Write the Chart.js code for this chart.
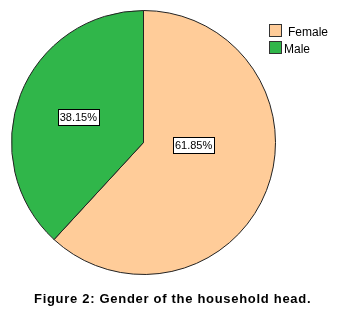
<!DOCTYPE html>
<html>
<head>
<meta charset="utf-8">
<script src="https://cdn.jsdelivr.net/npm/chart.js@4.4.1/dist/chart.umd.min.js"></script>
<style>
  html, body { margin: 0; padding: 0; background: #fff; }
  #wrap { position: relative; width: 343px; height: 312px; }
</style>
</head>
<body>
<div id="wrap"><canvas id="myChart" width="343" height="312"></canvas></div>
<script>
const categorias = ['Female', 'Male'];
const porcentajes = [61.85, 38.15];
const colores = ['#ffcc99', '#30b64a'];
const titulo = 'Figure 2: Gender of the household head.';

// labels in white boxes, legend and caption drawn on the canvas
const extras = {
    id: 'extras',
    afterDatasetsDraw(chart, args, opts) {
        const ctx = chart.ctx;
        const meta = chart.getDatasetMeta(0);
        ctx.save();
        ctx.font = '11px "Liberation Sans", Arial, sans-serif';
        ctx.textAlign = 'center';
        ctx.textBaseline = 'middle';
        meta.data.forEach((arc, i) => {
            const p = arc.getProps(['x', 'y', 'startAngle', 'endAngle', 'outerRadius']);
            const ang = (p.startAngle + p.endAngle) / 2 + opts.shift[i] * Math.PI / 180;
            const r = p.outerRadius * opts.dist[i];
            const x = p.x + Math.cos(ang) * r;
            const y = p.y + Math.sin(ang) * r;
            const txt = porcentajes[i].toFixed(2) + '%';
            const w = ctx.measureText(txt).width + 4;
            const h = 16;
            ctx.fillStyle = '#fff';
            ctx.fillRect(Math.round(x - w / 2) + 0.5, Math.round(y - h / 2) + 0.5, Math.round(w), h);
            ctx.strokeStyle = '#000';
            ctx.lineWidth = 1;
            ctx.strokeRect(Math.round(x - w / 2) + 0.5, Math.round(y - h / 2) + 0.5, Math.round(w), h);
            ctx.fillStyle = '#000';
            ctx.fillText(txt, x, y + 1);
        });

        // legend
        ctx.font = '12px "Liberation Sans", Arial, sans-serif';
        ctx.textAlign = 'left';
        ctx.textBaseline = 'alphabetic';
        categorias.forEach((c, i) => {
            const y0 = 24 + i * 17;
            ctx.fillStyle = colores[i];
            ctx.fillRect(269.5, y0 + 0.5, 12, 12);
            ctx.strokeStyle = '#333';
            ctx.strokeRect(269.5, y0 + 0.5, 12, 12);
            ctx.fillStyle = '#000';
            ctx.fillText(c, i === 0 ? 288 : 284, y0 + 12);
        });

        // caption
        ctx.font = 'bold 13px "Liberation Sans", Arial, sans-serif';
        ctx.letterSpacing = '0.7px';
        ctx.textAlign = 'left';
        ctx.fillStyle = '#000';
        ctx.fillText(titulo, 34, 303);
        ctx.restore();
    }
};

const ctx = document.getElementById('myChart').getContext('2d');
const myChart = new Chart(ctx, {
    type: 'pie',
    data: {
        labels: categorias,
        datasets: [{
            data: porcentajes,
            backgroundColor: colores,
            borderColor: '#222',
            borderWidth: 1
        }]
    },
    options: {
        responsive: false,
        animation: false,
        radius: 132,
        layout: { padding: { left: 0, right: 56, top: 0, bottom: 27 } },
        plugins: {
            legend: { display: false },
            tooltip: { enabled: false },
            extras: { shift: [-19, 0], dist: [0.38, 0.53] }
        }
    },
    plugins: [extras]
});
</script>
</body>
</html>
